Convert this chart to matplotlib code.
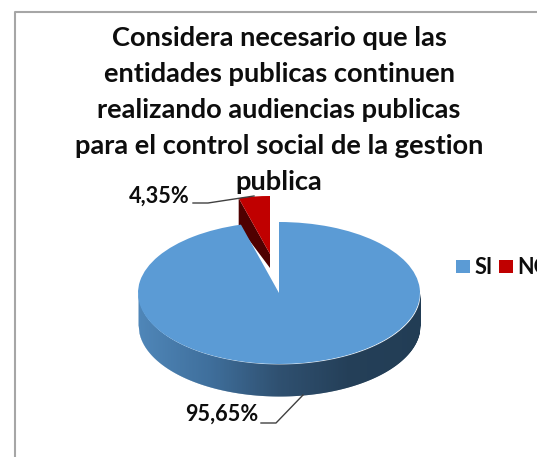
#!/usr/bin/env python3
"""Recreate the 3D-looking pie chart on audiencias publicas."""

import matplotlib

matplotlib.use("Agg")

import matplotlib.pyplot as plt
import numpy as np
from matplotlib.colors import LinearSegmentedColormap
from matplotlib.patches import Polygon, Rectangle

categories = ["SI", "NO"]
values = [95.65, 4.35]
colors = ["#5B9BD5", "#C00000"]
title_lines = [
    "Considera necesario que las",
    "entidades publicas continuen",
    "realizando audiencias publicas",
    "para el control social de la gestion",
    "publica",
]

W, H = 537, 457
FONT = "Lato"
BORDER = "#a6a6a6"
LEADER = "#404040"
DARK_RED = "#4f0000"

# pie geometry in picture pixels
CX, CY, RX, RY = 279, 293, 141, 71
DEPTH = 32
NO_CX, NO_CY, NO_RX, NO_RY = 270, 254, 116, 58

fig = plt.figure(figsize=(W / 100, H / 100), dpi=100, facecolor="white")
ax = fig.add_axes([0, 0, 1, 1], zorder=1)
ax.set_xlim(0, W)
ax.set_ylim(H, 0)
ax.axis("off")


def pie_axes(cx, cy, rx, ry, zorder):
    pie_ax = fig.add_axes(
        [(cx - rx) / W, 1 - (cy + ry) / H, 2 * rx / W, 2 * ry / H], zorder=zorder
    )
    wedges, _ = pie_ax.pie(values, colors=colors, startangle=90, counterclock=False, radius=1)
    pie_ax.set_aspect("auto")
    pie_ax.set_xlim(-1, 1)
    pie_ax.set_ylim(-1, 1)
    pie_ax.patch.set_alpha(0)
    return wedges


# chart frame
ax.plot([15, 15, W], [H, 12, 12], color=BORDER, lw=1.5)

# exploded NO slice, cut face first and then the top surface
no_angle = np.deg2rad(360 * values[1] / sum(values))
rim_x = NO_CX - NO_RX * np.sin(no_angle)
rim_y = NO_CY - NO_RY * np.cos(no_angle)
ax.add_patch(
    Polygon(
        [(rim_x, rim_y), (rim_x, rim_y + 28), (NO_CX, NO_CY + 14), (NO_CX, NO_CY)],
        closed=True,
        facecolor=DARK_RED,
        edgecolor="none",
    )
)
no_wedges = pie_axes(NO_CX, NO_CY, NO_RX, NO_RY, 2)
no_wedges[0].set_visible(False)

# front wall of the big slice, shaded left to right
wall_cmap = LinearSegmentedColormap.from_list(
    "wall", ["#4F86B8", "#3F6F9C", "#2F5070", "#243F58", "#223D55"]
)
wall_ax = fig.add_axes([0, 0, 1, 1], zorder=3)
wall_ax.set_xlim(0, W)
wall_ax.set_ylim(H, 0)
wall_ax.axis("off")
wall_x = np.linspace(CX - RX, CX + RX, 283)
wall_y = CY + RY * np.sqrt(np.clip(1 - ((wall_x - CX) / RX) ** 2, 0, 1))
for i in range(len(wall_x) - 1):
    wall_ax.fill_between(
        wall_x[i : i + 2] + [0, 0.5],
        wall_y[i : i + 2],
        wall_y[i : i + 2] + DEPTH,
        color=wall_cmap(i / (len(wall_x) - 2)),
        linewidth=0,
    )

si_wedges = pie_axes(CX, CY, RX, RY, 4)
si_wedges[1].set_visible(False)

# text and leader lines above the pie
top = fig.add_axes([0, 0, 1, 1], zorder=5)
top.set_xlim(0, W)
top.set_ylim(H, 0)
top.axis("off")

for i, line in enumerate(title_lines):
    top.text(279, 37.5 + 36 * i, line, fontsize=19.6, fontweight="bold", family=FONT,
             color="#0d0d0d", ha="center", va="center")

pct = [f"{v:.2f}%".replace(".", ",") for v in values]
top.text(159, 196, pct[1], fontsize=15.6, fontweight="bold", family=FONT,
         color="#0d0d0d", ha="center", va="center")
top.text(222, 414, pct[0], fontsize=15.6, fontweight="bold", family=FONT,
         color="#0d0d0d", ha="center", va="center")
top.plot([193, 208, 254], [203, 203, 196], color=LEADER, lw=1)
top.plot([261, 276, 303], [423, 423, 395], color=LEADER, lw=1)

handles = [Rectangle((0, 0), 1, 1, facecolor=c, edgecolor="none") for c in colors]
top.legend(
    handles,
    categories,
    ncol=2,
    frameon=False,
    loc="center left",
    bbox_to_anchor=(456, 268),
    bbox_transform=top.transData,
    prop={"family": FONT, "weight": "bold", "size": 15.6},
    handlelength=0.65,
    handleheight=0.55,
    handletextpad=0.2,
    columnspacing=0.3,
    borderpad=0,
    borderaxespad=0,
    labelcolor="#0d0d0d",
)

fig.savefig("out.png", dpi=100, facecolor="white")
plt.close(fig)
